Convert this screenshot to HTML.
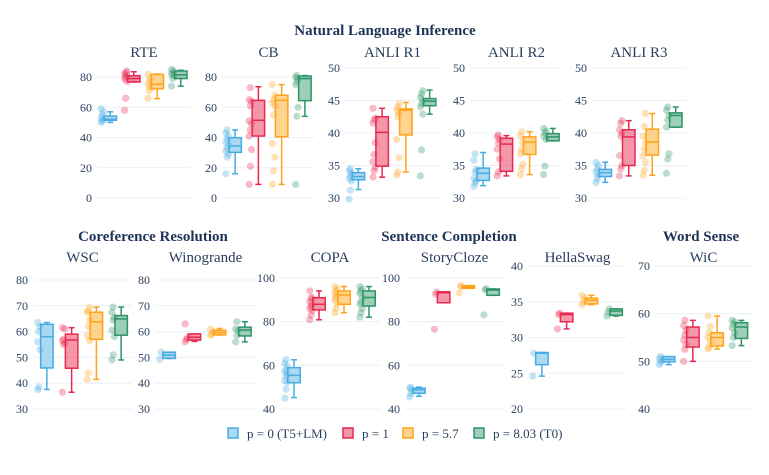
<!DOCTYPE html>
<html><head><meta charset="utf-8">
<style>
html,body{margin:0;padding:0;background:#fff;}
svg, svg text{font-family:"Liberation Serif","DejaVu Serif",serif;}
</style></head>
<body>
<svg id="chart" width="769" height="470" viewBox="0 0 769 470" xmlns="http://www.w3.org/2000/svg" font-family="Liberation Serif, serif">
  <text x="385" y="35" text-anchor="middle" font-size="15" font-weight="bold" fill="#1f3558">Natural Language Inference</text>
  <text x="153" y="241" text-anchor="middle" font-size="15" font-weight="bold" fill="#1f3558">Coreference Resolution</text>
  <text x="449" y="241" text-anchor="middle" font-size="15" font-weight="bold" fill="#1f3558">Sentence Completion</text>
  <text x="701" y="241" text-anchor="middle" font-size="15" font-weight="bold" fill="#1f3558">Word Sense</text>
  <g id="panels"></g>
  <g id="legend"></g>
</svg>
<script>
// ---- data ----
const seriesNames = ["p = 0 (T5+LM)", "p = 1", "p = 5.7", "p = 8.03 (T0)"];
const taskNames = ["RTE","CB","ANLI R1","ANLI R2","ANLI R3","WSC","Winogrande","COPA","StoryCloze","HellaSwag","WiC"];
const yTicks = [[0,20,40,60,80],[0,20,40,60,80],[30,35,40,45,50],[30,35,40,45,50],[30,35,40,45,50],
  [30,40,50,60,70,80],[30,40,50,60,70,80],[40,60,80,100],[40,60,80,100],[20,25,30,35,40],[40,50,60,70]];
const yMin = [0,0,30,30,30,30,30,40,40,20,40];
const yMax = [86,86,50,50,50,85.4,85.4,105.4,105.4,40,70];
// box stats per task: [lowWhisker, q1, median, q3, highWhisker] per series
const boxStats = [
  [[50,51.4,52,54.2,57],[77,76.7,79,80.9,83.5],[65.7,72.3,75.2,81.8,82],[74,79,81.5,84,84.5]],
  [[16,30.2,34.4,39.9,45],[9,41,51.4,64.6,73.6],[9,40.5,64.6,68,75],[54,64.4,79,80.7,81]],
  [[31.3,32.8,33.3,33.9,34.5],[33.2,34.9,40.1,42.5,43.8],[34,39.7,43.5,43.7,44.7],[42.9,44.2,44.9,45.3,46.6]],
  [[31.9,32.7,33.8,34.6,37],[33.4,34.1,38.3,39.2,39.6],[33.6,36.7,38.6,39.4,40.2],[38.8,38.8,39.4,39.9,40.7]],
  [[32.4,33.3,33.9,34.4,35.5],[33.4,35,39.4,40.5,41.9],[33.5,36.6,38.6,40.6,43],[40.9,40.9,42.7,43.1,44]],
  [[37.6,45.9,58,62.8,63.5],[36.5,45.8,56.7,59,61.5],[41.5,57,63.8,67.5,69.5],[49,58.6,64.9,66.2,69.5]],
  [[49.6,49.6,50.9,52,52],[56.2,56.7,57.8,59.1,59.1],[58.7,58.7,59.6,60.5,61.2],[56,58.3,60.6,61.7,63.8]],
  [[45.2,52,55.4,58.9,62.5],[80.8,85.3,87.9,90.9,94],[84,87.9,92.1,94,96],[82,87.1,91,94,96]],
  [[45.8,47.2,48.7,49.5,50],[88.6,88.6,93.2,93.6,93.6],[95.2,95.2,95.9,96.4,96.4],[92,92,94.4,94.9,94.9]],
  [[24.6,26.2,27.8,27.9,27.9],[31.2,32.2,33.2,33.4,33.4],[34.6,34.7,35.2,35.5,35.9],[33,33.1,33.7,34,34]],
  [[49.3,49.9,50.4,51,51],[50,53,55,57.2,58.6],[52.6,53.2,55,56,59.5],[53.3,54.8,57.2,58.1,58.6]]
];
// individual prompt points per task per series
const points = [
  [[50,51,52,53,55,57,59],[58,66,77,79,80,81,82,83,84],[66,71,73,75,77,79,82],[74,79,81,82,83,84,85]],
  [[16,27,29,31,33,35,37,39,41,43,45],[9,21,32,41,45,49,51,61,64,65,73],[9,18,27,36,55,61,63,65,68,75],[9,54,60,75,77,79,80,81]],
  [[29.8,31.2,32.6,33,33.4,33.8,34.2,34.5],[33.2,34.2,34.7,35.6,36.7,38.5,41.5,42,42.3,43.8],[33.5,34,36.2,39,42.5,43,43.5,44,44.5],[33.4,37.4,42.9,44,44.5,45,45.5,46,46.5]],
  [[31.8,32.3,32.7,33,34,34.4,35.8,36.8],[33.4,34,36,37.5,38.4,39,39.4,39.7],[33.6,34.5,35.2,36.8,37.5,38.5,39.5,40.2],[33.6,34.9,39,39.5,40,40.3,40.7]],
  [[32.4,33,33.5,34,34.5,35,35.5],[33.4,34.5,35,36.5,39.5,40,40.5,41.5,41.9],[33.5,34.3,35.5,36.5,37.5,38.5,39.5,41,43],[33.8,36,36.8,40.9,42,42.7,43.5,44]],
  [[37.5,38.5,53,56,60,62,63.5],[36.5,55,55.5,56.5,57,61,61.5],[41.5,44,56.5,58.5,62,64.5,67.5,68,69.5],[49,51,58,60.5,64.5,65.5,67.5,69.5]],
  [[49.3,52],[56,57,57.5,63],[58.5,59,60,61],[56,58.5,60.5,61,63.8]],
  [[45,49,52,53,55,56,57,58,59.5,61,62.5],[80.8,83,85,86,87,88,89,90.5,91,94],[84,86,88,90,91,92,93,94,95,96],[82,84,86,88,89,91,93,94,95,96]],
  [[45.5,47,48.5,49.5,50],[76.5,92.5,93.4],[93,96,96.5],[83,94.5,95]],
  [[24.6,27.8],[31.2,33.2,33.4],[34.6,35,35.5,35.9],[33,33.5,34]],
  [[49.3,49.8,50.2,50.6,51],[50,52.5,53.5,54.5,55.5,56.5,57.5,58.6],[52.6,53,54,55,56,57.3,59.5],[53.3,55,56,57,57.8,58.3,58.6]]
];
// ---- layout ----
const panelLeft = [97,222,345,470,592,33,155,280,405,528,655];
const panelRight = [191,315,440,563,686,132,256,380,504,627,752];
const rowTop = [68,68,68,68,68,266,266,266,266,266,266];
const rowBottom = [198,198,198,198,198,409,409,409,409,409,409];
const titleY = [57,57,57,57,57,262,262,262,262,262,262];
const strokeC = ["#46ace2","#e8294f","#ffa21c","#2e9468"];
const fillC = ["rgba(90,180,230,0.5)","rgba(236,64,98,0.55)","rgba(255,176,50,0.55)","rgba(60,160,115,0.5)"];
const NS = "http://www.w3.org/2000/svg";
const FF = "Liberation Serif, serif";
function mk(tag, attrs, parent){const e=document.createElementNS(NS,tag);for(const k in attrs)e.setAttribute(k,attrs[k]);parent.appendChild(e);return e;}
const panelsG = document.getElementById('panels');
taskNames.forEach((name,t)=>{
  const g = mk('g',{},panelsG);
  
  
  const L=panelLeft[t], R=panelRight[t], T=rowTop[t], B=rowBottom[t];
  const y = v => B - (v - yMin[t]) * (B - T) / (yMax[t] - yMin[t]);
  const title = mk('text',{x:(L+R)/2,y:titleY[t],'text-anchor':'middle','font-size':15,fill:'#2a3f5f','font-family':FF},g);
  title.textContent = name;
  
  
  yTicks[t].forEach(v=>{
    const gl = mk('line',{x1:L,x2:R,y1:y(v),y2:y(v),stroke:'#ebf0f8','stroke-width':1},g);
    
    
    const tl = mk('text',{x:L-5,y:y(v)+4,'text-anchor':'end','font-size':12,fill:'#2a3f5f','font-family':FF},g);
    tl.textContent = v;
    
    
  });
  const slot = (R-L)/4;
  for(let s=0;s<4;s++){
    const cx = L + slot*(s+0.5) + 1.5;
    const st = boxStats[t][s];
    const sg = mk('g',{},g);
    
    
    points[t][s].forEach((v,i)=>{
      const jx = cx - 8 + ((i%3)-1)*1.2;
      const c = mk('circle',{cx:jx,cy:y(v),r:3.6,fill:strokeC[s],'fill-opacity':0.32},sg);
      
      
    });
    const bw=12.5, cw=6;
    const w1 = mk('line',{x1:cx,x2:cx,y1:y(st[0]),y2:y(st[1]),stroke:strokeC[s],'stroke-width':1.5},sg);
     
    const w2 = mk('line',{x1:cx,x2:cx,y1:y(st[3]),y2:y(st[4]),stroke:strokeC[s],'stroke-width':1.5},sg);
     
    const c1 = mk('line',{x1:cx-cw/2,x2:cx+cw/2,y1:y(st[0]),y2:y(st[0]),stroke:strokeC[s],'stroke-width':1.5},sg);
     
    const c2 = mk('line',{x1:cx-cw/2,x2:cx+cw/2,y1:y(st[4]),y2:y(st[4]),stroke:strokeC[s],'stroke-width':1.5},sg);
     
    const rect = mk('rect',{x:cx-bw/2,y:y(st[3]),width:bw,height:Math.max(1,y(st[1])-y(st[3])),fill:fillC[s],stroke:strokeC[s],'stroke-width':1.5},sg);
     
    const med = mk('line',{x1:cx-bw/2,x2:cx+bw/2,y1:y(st[2]),y2:y(st[2]),stroke:strokeC[s],'stroke-width':1.5},sg);
     
  }
});
const legendG = document.getElementById('legend');
const legX = [228,343,403,474];
seriesNames.forEach((n,s)=>{
  const g = mk('g',{},legendG);
  
  
  mk('rect',{x:legX[s],y:428,width:10,height:10,fill:fillC[s],stroke:strokeC[s],'stroke-width':1.5},g);
  const tx = mk('text',{x:legX[s]+19,y:438,'font-size':13,fill:'#2a3f5f','font-family':FF},g);
  tx.textContent = n;
});
</script>
</body></html>
